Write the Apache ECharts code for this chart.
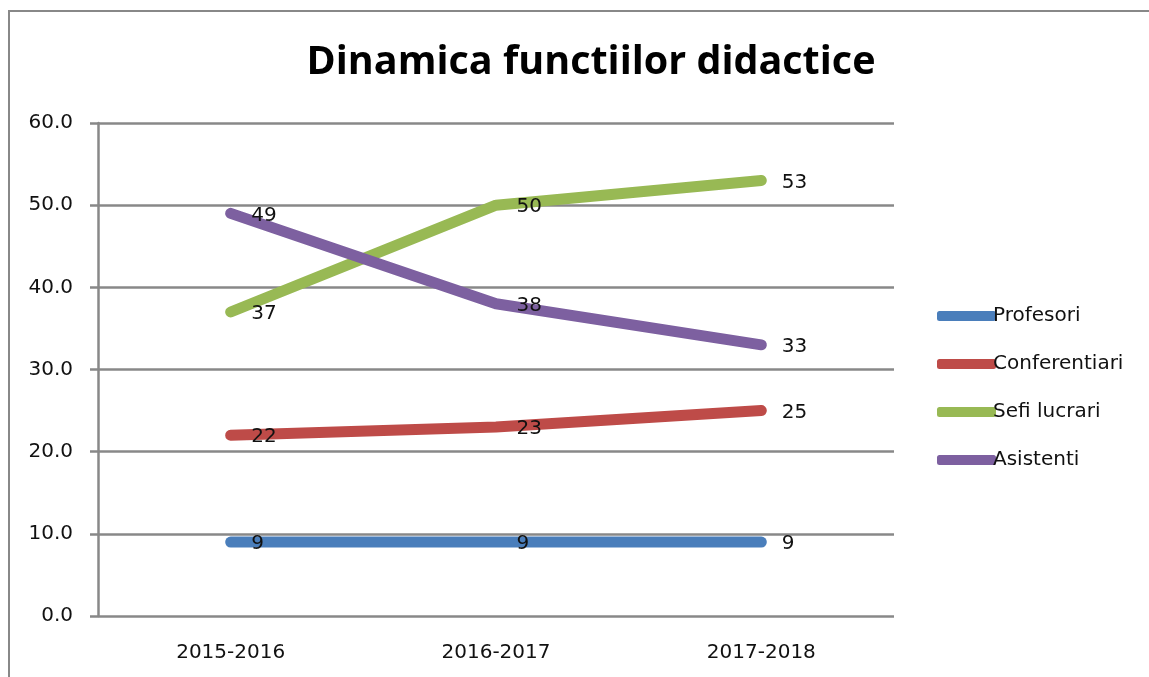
<!DOCTYPE html>
<html>
<head>
<meta charset="utf-8">
<script src="https://cdn.jsdelivr.net/npm/echarts@6/dist/echarts.min.js"></script>
<style>
  html, body { margin: 0; padding: 0; background: #fff; }
  #chart { width: 1149px; height: 677px; }
</style>
</head>
<body>
<div id="chart"></div>
<script>
// data
const years = ['2015-2016', '2016-2017', '2017-2018'];
const seriesNames = ['Profesori', 'Conferentiari', 'Sefi lucrari', 'Asistenti'];
const profesori = [9, 9, 9];
const conferentiari = [22, 23, 25];
const sefiLucrari = [37, 50, 53];
const asistenti = [49, 38, 33];

const COLORS = ['#4A7EBB', '#BE4B48', '#98B954', '#7D60A0'];
const FONT = '"DejaVu Sans"';

const chart = echarts.init(document.getElementById('chart'));

const mkSeries = (name, data, color) => ({
  name: name,
  type: 'line',
  data: data,
  symbol: 'circle',
  symbolSize: 1,
  lineStyle: { width: 11, color: color, cap: 'round', join: 'round' },
  itemStyle: { color: 'rgba(0,0,0,0)' },
  label: {
    show: true,
    position: 'right',
    distance: 20,
    offset: [0, 2],
    color: '#111',
    fontSize: 20,
    fontFamily: FONT
  },
  emphasis: { disabled: true },
  z: 3
});

const option = {
  animation: false,
  backgroundColor: '#fff',
  title: {
    text: 'Dinamica functiilor didactice',
    left: 586,
    top: 38,
    textAlign: 'center',
    textStyle: { fontSize: 39.5, fontWeight: 'bold', color: '#000', fontFamily: '"Open Sans"' }
  },
  graphic: [{
    type: 'rect',
    shape: { x: 9, y: 11, width: 1200, height: 720 },
    style: { fill: 'none', stroke: '#888', lineWidth: 2 },
    silent: true
  }],
  legend: {
    orient: 'vertical',
    left: 932,
    top: 301,
    itemWidth: 59,
    itemHeight: 10,
    itemGap: 28,
    icon: 'roundRect',
    textStyle: { fontSize: 20, color: '#111', fontFamily: FONT, padding: [0, 0, 0, -8] },
    data: seriesNames.map((n, i) => ({ name: n, itemStyle: { color: COLORS[i], opacity: 1 } }))
  },
  grid: { left: 98, right: 255, top: 123, bottom: 61 },
  xAxis: {
    type: 'category',
    data: years,
    boundaryGap: true,
    axisLine: { show: false },
    axisTick: { show: false },
    axisLabel: { fontSize: 20, color: '#111', fontFamily: FONT, margin: 27 }
  },
  yAxis: {
    type: 'value',
    min: 0,
    max: 60,
    interval: 10,
    axisLine: { show: true, lineStyle: { color: '#888', width: 2.5 } },
    axisTick: { show: true, length: 8, lineStyle: { color: '#888', width: 2.5 } },
    axisLabel: {
      fontSize: 20, color: '#111', fontFamily: FONT, margin: 25,
      formatter: v => v.toFixed(1)
    },
    splitLine: { lineStyle: { color: '#888', width: 2.5 } }
  },
  series: [
    mkSeries(seriesNames[0], profesori, COLORS[0]),
    mkSeries(seriesNames[1], conferentiari, COLORS[1]),
    mkSeries(seriesNames[2], sefiLucrari, COLORS[2]),
    mkSeries(seriesNames[3], asistenti, COLORS[3])
  ]
};

chart.setOption(option);
</script>
</body>
</html>
